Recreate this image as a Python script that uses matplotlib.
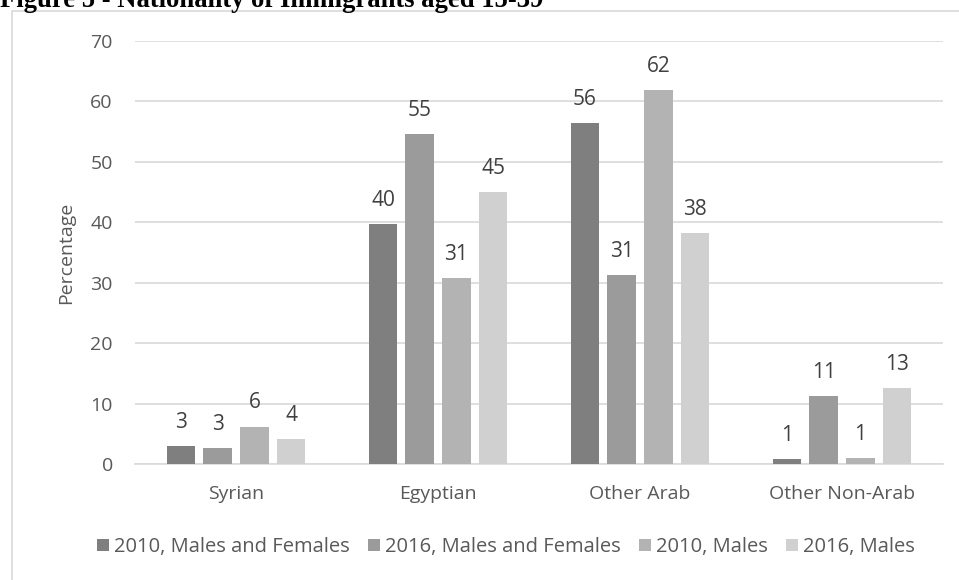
import matplotlib
matplotlib.use("Agg")
import matplotlib.pyplot as plt
from matplotlib.patches import Rectangle
import numpy as np

categories = ["Syrian", "Egyptian", "Other Arab", "Other Non-Arab"]
series_names = ["2010, Males and Females", "2016, Males and Females",
                "2010, Males", "2016, Males"]
values = {
    "2010, Males and Females": [2.9, 39.7, 56.4, 0.9],
    "2016, Males and Females": [2.6, 54.6, 31.3, 11.3],
    "2010, Males": [6.2, 30.8, 61.9, 1.0],
    "2016, Males": [4.1, 45.0, 38.2, 12.6],
}
colors = ["#7f7f7f", "#9b9b9b", "#b3b3b3", "#d0d0d0"]
y_ticks = [0, 10, 20, 30, 40, 50, 60, 70]

text_color = "#595959"
label_color = "#404040"
font = ["Open Sans", "DejaVu Sans"]
plt.rcParams["font.family"] = font
fs = 14

W, H = 959, 580
fig = plt.figure(figsize=(W / 100, H / 100), dpi=100)

# chart frame
fig.patches.append(Rectangle((12 / W, -0.01), 1.0, 1 - 11 / H + 0.01,
                             transform=fig.transFigure, fill=False,
                             edgecolor="#d9d9d9", linewidth=1.2))

# heading above the frame
fig.text(0.0, 1 - 7 / H, "Figure 5 - Nationality of Immigrants aged 15-39",
         family="Liberation Serif", fontweight="bold", fontsize=19.2,
         color="black", ha="left", va="baseline")

ax = fig.add_axes([135 / W, 1 - 464 / H, (943 - 135) / W, (464 - 41) / H])
x = np.arange(len(categories))
pitch = 0.1816
width = 0.142
for i, name in enumerate(series_names):
    xs = x + (i - 1.5) * pitch
    vals = values[name]
    ax.bar(xs, vals, width=width, color=colors[i], label=name, zorder=3)
    for xi, v in zip(xs, vals):
        ax.annotate(f"{v:.0f}", (xi, v), xytext=(0, 13),
                    textcoords="offset points", ha="center", va="baseline",
                    fontsize=15, color=label_color)

ax.set_xlim(-0.5, len(categories) - 0.5)
ax.set_ylim(0, 70)
ax.set_yticks(y_ticks)
ax.set_yticklabels([str(t) for t in y_ticks])
ax.set_xticks(x)
ax.set_xticklabels(categories)
ax.tick_params(axis="both", length=0, labelsize=fs, labelcolor=text_color)
ax.tick_params(axis="x", pad=15)
ax.tick_params(axis="y", pad=16)
ax.grid(axis="y", color="#d9d9d9", linewidth=1.2, zorder=0)
for side in ["top", "right", "left"]:
    ax.spines[side].set_visible(False)
ax.spines["bottom"].set_color("#d9d9d9")
ax.spines["bottom"].set_linewidth(1.2)
ax.set_ylabel("Percentage", fontsize=fs, color=text_color, labelpad=11)

handles, labels = ax.get_legend_handles_labels()
fig.legend(handles, labels, loc="center", bbox_to_anchor=(506 / W, 1 - 547 / H),
           ncol=4, frameon=False, fontsize=14.5, labelcolor=text_color,
           handlelength=0.6, handleheight=0.6, handletextpad=0.25,
           columnspacing=0.9, borderpad=0)

fig.savefig("out.png", dpi=100)
